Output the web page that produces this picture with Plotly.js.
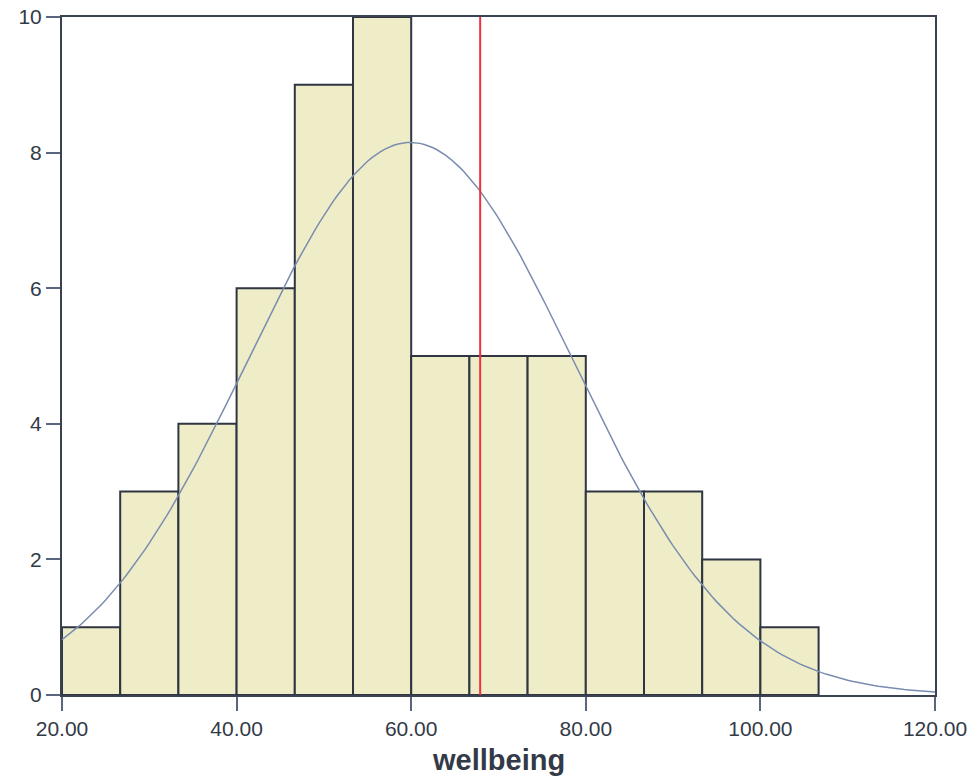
<!DOCTYPE html>
<html>
<head>
<meta charset="utf-8">
<script src="https://cdn.plot.ly/plotly-3.0.1.min.js"></script>
<style>
  html, body { margin: 0; padding: 0; background: #ffffff; }
  #chart { width: 979px; height: 776px; }
</style>
</head>
<body>
<div id="chart"></div>
<script>
// Histogram of wellbeing scores: bin counts, fitted normal curve and a reference line
const binStart = 20;
const binWidth = 100 / 15;
const counts = [1, 3, 4, 6, 9, 10, 5, 5, 5, 3, 3, 2, 1];

// Normal curve parameters
const curveMean = 59.9;
const curveSd = 18.6;
const curveN = 57;

// Reference marker on the x axis
const markerX = 67.9;

const xTicks = [20, 40, 60, 80, 100, 120];
const xTickText = ['20.00', '40.00', '60.00', '80.00', '100.00', '120.00'];
const yTicks = [0, 2, 4, 6, 8, 10];
const xTitle = 'wellbeing';

const barCenters = counts.map((_, i) => binStart + binWidth * (i + 0.5));

const curveX = [];
const curveY = [];
for (let x = 20; x <= 120.0001; x += 0.5) {
  const z = (x - curveMean) / curveSd;
  curveX.push(x);
  curveY.push(curveN * binWidth * Math.exp(-0.5 * z * z) / (curveSd * Math.sqrt(2 * Math.PI)));
}

const bars = {
  type: 'bar',
  x: barCenters,
  y: counts,
  width: binWidth,
  marker: { color: '#efedc7', line: { color: '#2f3541', width: 2 } },
  hoverinfo: 'x+y'
};

const curve = {
  type: 'scatter',
  mode: 'lines',
  x: curveX,
  y: curveY,
  line: { color: '#7a8db0', width: 1.5 },
  hoverinfo: 'skip'
};

const marker = {
  type: 'scatter',
  mode: 'lines',
  x: [markerX, markerX],
  y: [0, 10],
  line: { color: '#f0303f', width: 2 },
  hoverinfo: 'skip'
};

const layout = {
  width: 979,
  height: 776,
  margin: { l: 62, r: 44, t: 17, b: 81 },
  paper_bgcolor: '#ffffff',
  plot_bgcolor: '#ffffff',
  showlegend: false,
  font: { family: 'Liberation Sans, Arial, sans-serif', color: '#333a47' },
  xaxis: {
    range: [20, 120],
    tickvals: xTicks,
    ticktext: xTickText,
    ticks: 'outside',
    ticklen: 14,
    tickwidth: 2,
    tickcolor: '#5a6680',
    showgrid: false,
    zeroline: false,
    showline: true,
    mirror: true,
    linecolor: '#3a4150',
    linewidth: 2,
    tickfont: { size: 21, color: '#333a47' }
  },
  yaxis: {
    range: [0, 10],
    tickvals: yTicks,
    ticks: 'outside',
    ticklen: 14,
    tickwidth: 2,
    tickcolor: '#5a6680',
    showgrid: false,
    zeroline: false,
    showline: true,
    mirror: true,
    linecolor: '#3a4150',
    linewidth: 2,
    tickfont: { size: 21, color: '#333a47' }
  },
  annotations: [{
    text: '<b>' + xTitle + '</b>',
    xref: 'paper', yref: 'paper',
    x: 0.5, y: 0,
    xanchor: 'center', yanchor: 'top',
    yshift: -47,
    showarrow: false,
    font: { size: 29, color: '#333a47' }
  }],
  bargap: 0
};

Plotly.newPlot('chart', [bars, curve, marker], layout, { displayModeBar: false, staticPlot: true });
</script>
</body>
</html>
